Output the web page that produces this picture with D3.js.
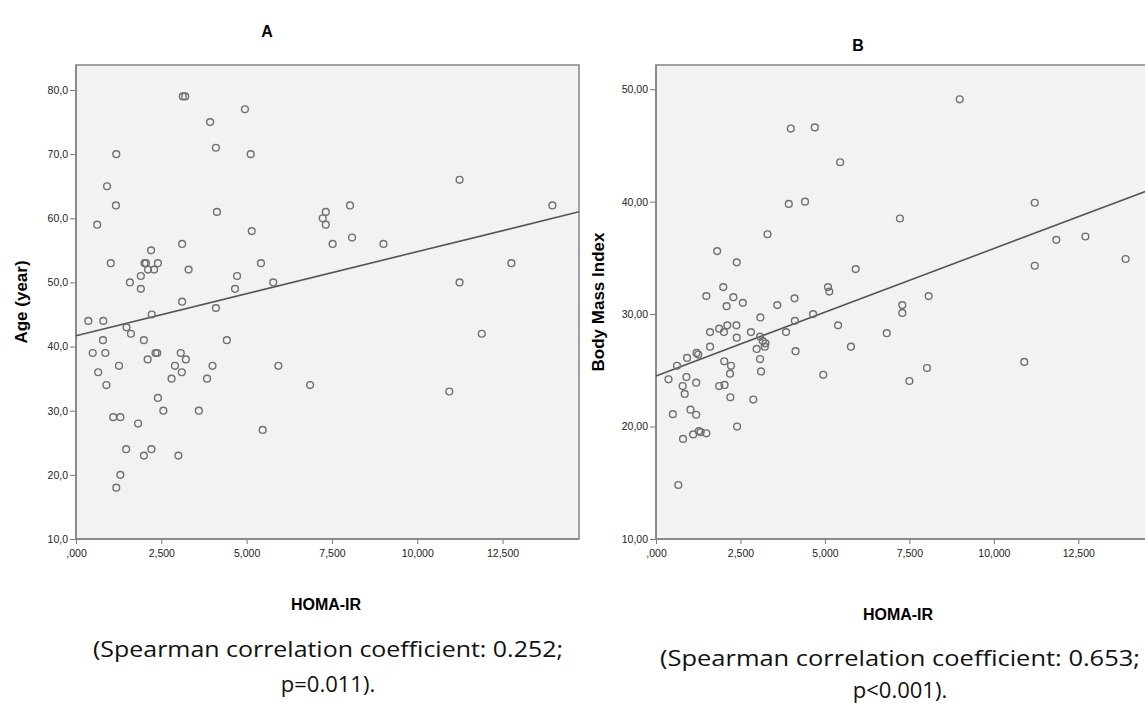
<!DOCTYPE html>
<html>
<head>
<meta charset="utf-8">
<script src="https://cdn.jsdelivr.net/npm/d3@7"></script>
<style>
  body { margin: 0; background: #fff; }
  svg { display: block; }
  .tick text { font-family: "Liberation Sans", Arial, sans-serif; font-size: 10.5px; fill: #222; }
  .tick line { stroke: #777; }
  .domain { display: none; }
</style>
</head>
<body>
<svg class="plot" width="1145" height="703"></svg>
<script>
// HOMA-IR vs age (panel A)
var homaA = [3.13, 3.20, 3.93, 4.95, 4.10, 5.12, 1.18, 0.91, 1.17, 0.62,
             4.13, 5.15, 3.11, 2.20, 1.02, 2.01, 2.05, 2.40, 2.11, 2.29,
             3.30, 5.42, 1.58, 1.90, 1.90, 4.72, 4.66, 5.78, 3.11, 4.10,
             11.24, 8.03, 13.96, 7.32, 7.23, 7.32, 7.52, 8.09, 9.01, 11.24,
             12.76, 2.22, 0.36, 0.80, 1.48, 1.61, 0.79, 1.99, 4.42, 0.49,
             0.86, 2.33, 2.38, 3.07, 2.10, 3.22, 0.65, 1.26, 2.90, 3.10,
             4.00, 5.93, 2.80, 3.84, 0.89, 2.40, 2.56, 3.60, 1.09, 1.30,
             1.82, 5.47, 1.47, 2.21, 1.99, 3.00, 1.30, 1.18, 6.86, 10.94, 11.89];
var age = [79, 79, 75, 77, 71, 70, 70, 65, 62, 59,
           61, 58, 56, 55, 53, 53, 53, 53, 52, 52,
           52, 53, 50, 51, 49, 51, 49, 50, 47, 46,
           66, 62, 62, 61, 60, 59, 56, 57, 56, 50,
           53, 45, 44, 44, 43, 42, 41, 41, 41, 39,
           39, 39, 39, 39, 38, 38, 36, 37, 37, 36,
           37, 37, 35, 35, 34, 32, 30, 30, 29, 29,
           28, 27, 24, 24, 23, 23, 20, 18, 34, 33, 42];

// HOMA-IR vs body mass index (panel B)
var homaB = [3.99, 4.70, 5.45, 3.93, 4.41, 3.30, 1.81, 2.39, 5.91, 1.49,
             1.99, 2.29, 2.09, 2.57, 3.59, 4.10, 5.09, 5.13, 4.65, 3.09,
             4.11, 5.39, 1.60, 1.87, 2.01, 2.11, 2.38, 2.81, 3.08, 3.16,
             3.24, 3.22, 3.85, 2.39, 1.60, 1.20, 1.25, 0.92, 0.62, 2.98,
             3.08, 4.13, 5.77, 2.02, 2.22, 2.19, 3.11, 4.95, 0.37, 0.90,
             1.19, 0.79, 1.87, 2.03, 0.85, 2.20, 2.88, 1.02, 0.50, 1.19,
             1.10, 1.27, 1.32, 1.49, 0.80, 2.40, 0.66, 8.99, 11.21, 7.22,
             11.85, 12.71, 11.21, 13.90, 8.07, 7.29, 7.29, 6.83, 8.02, 7.50, 10.90];
var bmi = [46.5, 46.6, 43.5, 39.8, 40.0, 37.1, 35.6, 34.6, 34.0, 31.6,
           32.4, 31.5, 30.7, 31.0, 30.8, 31.4, 32.4, 32.0, 30.0, 29.7,
           29.4, 29.0, 28.4, 28.7, 28.4, 29.0, 29.0, 28.4, 28.0, 27.6,
           27.4, 27.1, 28.4, 27.9, 27.1, 26.55, 26.4, 26.1, 25.4, 26.9,
           26.0, 26.7, 27.1, 25.8, 25.4, 24.7, 24.9, 24.6, 24.2, 24.4,
           23.9, 23.6, 23.6, 23.7, 22.9, 22.6, 22.4, 21.5, 21.1, 21.05,
           19.3, 19.6, 19.5, 19.4, 18.9, 20.0, 14.8, 49.1, 39.9, 38.5,
           36.6, 36.9, 34.3, 34.9, 31.6, 30.8, 30.1, 28.3, 25.2, 24.05, 25.75];

// fit lines: [intercept, slope]
var fitA = [41.7, 1.31],
    fitB = [24.5, 1.133];

var xTicks = [0, 2.5, 5, 7.5, 10, 12.5],
    xTickLabels = [",000", "2,500", "5,000", "7,500", "10,000", "12,500"];
var yTicksA = [10, 20, 30, 40, 50, 60, 70, 80],
    yTickLabelsA = ["10,0", "20,0", "30,0", "40,0", "50,0", "60,0", "70,0", "80,0"];
var yTicksB = [10, 20, 30, 40, 50],
    yTickLabelsB = ["10,00", "20,00", "30,00", "40,00", "50,00"];

var svg = d3.select(".plot");

var panels = [
  {left: 76, right: 579, xs: homaA, ys: age, fit: fitA, yDom: [10, 83.9],
   yTicks: yTicksA, yLabels: yTickLabelsA, title: "A", titleX: 267, titleY: 37,
   yTitle: "Age (year)", yTitleX: 27, xTitle: 326, xTitleY: 610,
   cap1: "(Spearman correlation coefficient: 0.252;", cap2: "p=0.011).",
   capX: 328, capW: 470, capY1: 657, capY2: 692},
  {left: 656, right: 1154, xs: homaB, ys: bmi, fit: fitB, yDom: [10, 52.15],
   yTicks: yTicksB, yLabels: yTickLabelsB, title: "B", titleX: 858, titleY: 51,
   yTitle: "Body Mass Index", yTitleX: 604, xTitle: 898, xTitleY: 620,
   cap1: "(Spearman correlation coefficient: 0.653;", cap2: "p<0.001).",
   capX: 900, capW: 480, capY1: 666, capY2: 698}
];

var plotTop = 65, plotBottom = 539;

panels.forEach(function(p) {
  var x = d3.scaleLinear().domain([0, 14.74]).range([p.left, p.right]);
  var y = d3.scaleLinear().domain(p.yDom).range([plotBottom, plotTop]);

  // frame
  svg.append("rect")
      .attr("x", p.left).attr("y", plotTop)
      .attr("width", p.right - p.left).attr("height", plotBottom - plotTop)
      .attr("fill", "#f2f2f2")
      .attr("stroke", "#8a8a8a")
      .attr("stroke-width", 1.6);

  // axes
  svg.append("g")
      .attr("transform", "translate(0," + plotBottom + ")")
      .call(d3.axisBottom(x).tickValues(xTicks).tickSize(5).tickPadding(6)
        .tickFormat(function(d, i) { return xTickLabels[i]; }));

  svg.append("g")
      .attr("transform", "translate(" + p.left + ",0)")
      .call(d3.axisLeft(y).tickValues(p.yTicks).tickSize(6).tickPadding(2)
        .tickFormat(function(d, i) { return p.yLabels[i]; }));

  svg.append("line")
      .attr("x1", p.left).attr("x2", p.left)
      .attr("y1", plotTop).attr("y2", plotBottom)
      .attr("stroke", "#8a8a8a").attr("stroke-width", 2);
  svg.append("line")
      .attr("x1", p.left).attr("x2", p.right)
      .attr("y1", plotBottom).attr("y2", plotBottom)
      .attr("stroke", "#8a8a8a").attr("stroke-width", 2);

  // fit line
  svg.append("line")
      .attr("x1", x(0)).attr("y1", y(p.fit[0]))
      .attr("x2", x(14.74)).attr("y2", y(p.fit[0] + p.fit[1] * 14.74))
      .attr("stroke", "#555").attr("stroke-width", 1.6);

  // points
  svg.append("g").selectAll("circle")
      .data(p.xs)
      .enter()
      .append("circle")
      .attr("cx", function(d) { return x(d); })
      .attr("cy", function(d, i) { return y(p.ys[i]); })
      .attr("r", 3.4)
      .attr("fill", "none")
      .attr("stroke", "#707070")
      .attr("stroke-width", 1.4);

  // titles
  svg.append("text")
      .attr("x", p.titleX).attr("y", p.titleY)
      .style("font-family", "Liberation Sans, Arial, sans-serif")
      .style("font-weight", "bold").style("font-size", "16px")
      .style("text-anchor", "middle")
      .text(p.title);

  svg.append("text")
      .attr("transform", "translate(" + p.yTitleX + "," + ((plotTop + plotBottom) / 2) + ")rotate(-90)")
      .style("font-family", "Liberation Sans, Arial, sans-serif")
      .style("font-weight", "bold").style("font-size", "17px")
      .style("text-anchor", "middle")
      .text(p.yTitle);

  svg.append("text")
      .attr("x", p.xTitle).attr("y", p.xTitleY)
      .style("font-family", "Liberation Sans, Arial, sans-serif")
      .style("font-weight", "bold").style("font-size", "16px")
      .style("text-anchor", "middle")
      .text("HOMA-IR");

  svg.append("text")
      .attr("x", p.capX).attr("y", p.capY1)
      .attr("textLength", p.capW).attr("lengthAdjust", "spacingAndGlyphs")
      .style("font-family", "Open Sans, sans-serif")
      .style("font-size", "22px").style("fill", "#111")
      .style("text-anchor", "middle")
      .text(p.cap1);

  svg.append("text")
      .attr("x", p.capX).attr("y", p.capY2)
      .style("font-family", "Open Sans, sans-serif")
      .style("font-size", "22px").style("fill", "#111")
      .style("text-anchor", "middle")
      .text(p.cap2);
});
</script>
</body>
</html>
